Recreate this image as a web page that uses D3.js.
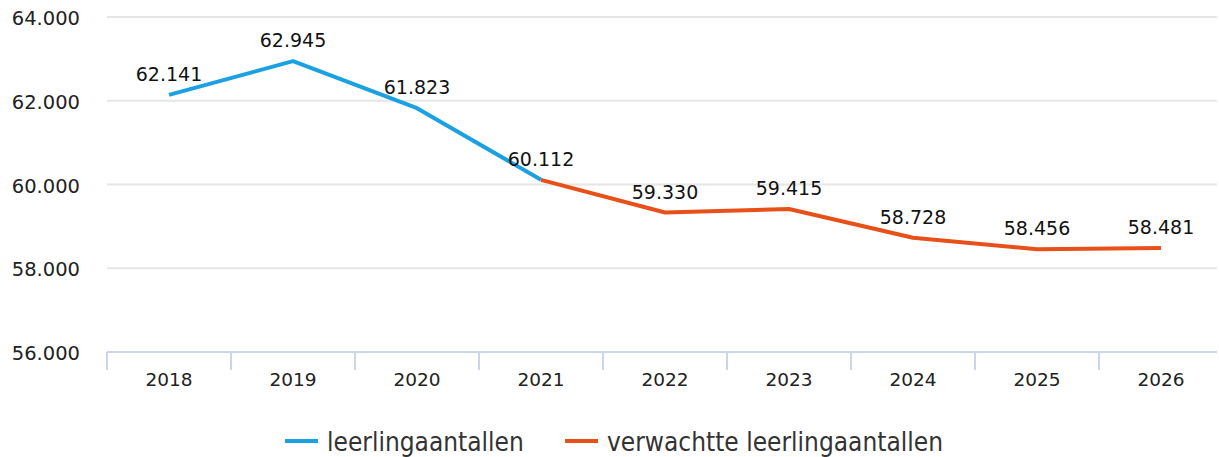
<!DOCTYPE html>
<html>
<head>
<meta charset="utf-8">
<script src="https://cdn.jsdelivr.net/npm/d3@7"></script>
<style>
  html, body { margin: 0; padding: 0; background: #fff; }
  svg { display: block; font-family: "DejaVu Sans", Verdana, sans-serif; }
</style>
</head>
<body>
<svg id="chart" width="1219" height="457"></svg>
<script>
// Leerlingaantallen per jaar: gemeten (t/m 2021) en verwacht (vanaf 2021)
const years = ["2018", "2019", "2020", "2021", "2022", "2023", "2024", "2025", "2026"];
const actualYears = ["2018", "2019", "2020", "2021"];
const actualValues = [62141, 62945, 61823, 60112];
const forecastYears = ["2021", "2022", "2023", "2024", "2025", "2026"];
const forecastValues = [60112, 59330, 59415, 58728, 58456, 58481];
const yTicks = [56000, 58000, 60000, 62000, 64000];
const seriesNames = ["leerlingaantallen", "verwachtte leerlingaantallen"];
const seriesColors = ["#1ba1e2", "#e8501a"];

const nl = d3.formatLocale({ decimal: ",", thousands: ".", grouping: [3], currency: ["€", ""] });
const fmt = nl.format(",d");

const svg = d3.select("#chart");
const plot = { left: 107, right: 1223, top: 17, bottom: 352 };

const x = d3.scaleBand().domain(years).range([plot.left, plot.right]);
const y = d3.scaleLinear().domain([56000, 64000]).range([plot.bottom, plot.top]);
const cx = d => x(d) + x.bandwidth() / 2;

// horizontale rasterlijnen
svg.append("g")
  .selectAll("line")
  .data(yTicks.filter(t => t !== 56000))
  .join("line")
  .attr("x1", plot.left).attr("x2", 1217)
  .attr("y1", d => y(d)).attr("y2", d => y(d))
  .attr("stroke", "#e6e6e6").attr("stroke-width", 2);

// y-as labels
svg.append("g")
  .selectAll("text")
  .data(yTicks)
  .join("text")
  .attr("x", 80).attr("y", d => y(d) + 8)
  .attr("text-anchor", "end")
  .attr("font-size", 19.5)
  .attr("fill", "#222")
  .text(d => fmt(d));

// x-as
svg.append("g")
  .selectAll("text")
  .data(years)
  .join("text")
  .attr("x", d => cx(d)).attr("y", plot.bottom + 34)
  .attr("text-anchor", "middle")
  .attr("font-size", 18.5)
  .attr("fill", "#222")
  .text(d => d);
svg.append("line")
  .attr("x1", plot.left).attr("x2", 1217)
  .attr("y1", plot.bottom).attr("y2", plot.bottom)
  .attr("stroke", "#ccd6eb").attr("stroke-width", 2);
svg.append("g")
  .selectAll("line")
  .data(years)
  .join("line")
  .attr("x1", d => x(d)).attr("x2", d => x(d))
  .attr("y1", plot.bottom).attr("y2", plot.bottom + 18)
  .attr("stroke", "#ccd6eb").attr("stroke-width", 2);

// lijnen
const line = d3.line().x(d => cx(d[0])).y(d => y(d[1]));
const series = [
  d3.zip(actualYears, actualValues),
  d3.zip(forecastYears, forecastValues)
];
svg.append("g")
  .selectAll("path")
  .data(series)
  .join("path")
  .attr("d", line)
  .attr("fill", "none")
  .attr("stroke", (d, i) => seriesColors[i])
  .attr("stroke-width", 4)
  .attr("stroke-linejoin", "round");

// waardelabels
const labelData = d3.zip(actualYears, actualValues)
  .concat(d3.zip(forecastYears, forecastValues).slice(1));
svg.append("g")
  .selectAll("text")
  .data(labelData)
  .join("text")
  .attr("x", d => cx(d[0]))
  .attr("y", d => y(d[1]) - 14)
  .attr("text-anchor", "middle")
  .attr("font-size", 19)
  .attr("fill", "#111")
  .text(d => fmt(d[1]));

// legenda
const legend = svg.append("g").attr("transform", "translate(0,441)");
const legendX = [285, 565];
seriesNames.forEach((name, i) => {
  legend.append("line")
    .attr("x1", legendX[i]).attr("x2", legendX[i] + 33)
    .attr("y1", 0).attr("y2", 0)
    .attr("stroke", seriesColors[i]).attr("stroke-width", 4);
  legend.append("text")
    .attr("x", legendX[i] + 42).attr("y", 10)
    .attr("font-size", 26)
    .attr("font-family", "DejaVu Sans Condensed, DejaVu Sans, sans-serif")
    .attr("font-stretch", "condensed")
    .attr("fill", "#333")
    .text(name);
});
</script>
</body>
</html>
